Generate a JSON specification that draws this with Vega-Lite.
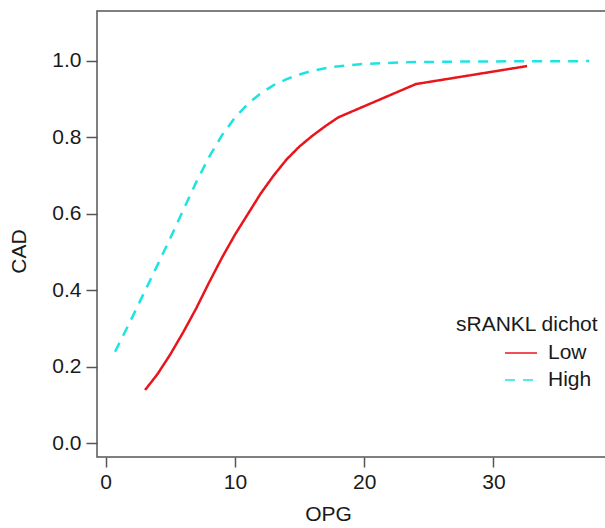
{
  "$schema": "https://vega.github.io/schema/vega-lite/v6.json",
  "autosize": {"type": "none"},
  "padding": {"left": 97, "top": 11, "right": 0, "bottom": 71},
  "width": 510,
  "height": 446,
  "background": "white",
  "config": {
    "font": "Liberation Sans",
    "view": {"stroke": "#555555", "strokeWidth": 1.5},
    "axis": {
      "labelFont": "Liberation Sans",
      "titleFont": "Liberation Sans",
      "labelFontSize": 21,
      "titleFontSize": 21,
      "titleFontWeight": "normal",
      "labelColor": "#1a1a1a",
      "titleColor": "#1a1a1a",
      "tickColor": "#555555",
      "tickWidth": 1.5,
      "tickSize": 10,
      "domainColor": "#555555",
      "domainWidth": 1.5,
      "grid": false
    }
  },
  "data": {
    "values": [
      {"OPG": 3.05, "CAD": 0.139, "group": "Low"},
      {"OPG": 4.0, "CAD": 0.18, "group": "Low"},
      {"OPG": 5.0, "CAD": 0.232, "group": "Low"},
      {"OPG": 6.0, "CAD": 0.29, "group": "Low"},
      {"OPG": 7.0, "CAD": 0.352, "group": "Low"},
      {"OPG": 8.0, "CAD": 0.42, "group": "Low"},
      {"OPG": 9.0, "CAD": 0.485, "group": "Low"},
      {"OPG": 10.0, "CAD": 0.545, "group": "Low"},
      {"OPG": 11.0, "CAD": 0.599, "group": "Low"},
      {"OPG": 12.0, "CAD": 0.653, "group": "Low"},
      {"OPG": 13.0, "CAD": 0.7, "group": "Low"},
      {"OPG": 14.0, "CAD": 0.742, "group": "Low"},
      {"OPG": 15.0, "CAD": 0.776, "group": "Low"},
      {"OPG": 16.0, "CAD": 0.804, "group": "Low"},
      {"OPG": 17.0, "CAD": 0.829, "group": "Low"},
      {"OPG": 18.0, "CAD": 0.852, "group": "Low"},
      {"OPG": 24.0, "CAD": 0.939, "group": "Low"},
      {"OPG": 32.6, "CAD": 0.986, "group": "Low"},
      {"OPG": 0.73, "CAD": 0.239, "group": "High"},
      {"OPG": 2.0, "CAD": 0.325, "group": "High"},
      {"OPG": 3.0, "CAD": 0.395, "group": "High"},
      {"OPG": 4.0, "CAD": 0.465, "group": "High"},
      {"OPG": 5.0, "CAD": 0.536, "group": "High"},
      {"OPG": 6.0, "CAD": 0.609, "group": "High"},
      {"OPG": 7.0, "CAD": 0.682, "group": "High"},
      {"OPG": 8.0, "CAD": 0.748, "group": "High"},
      {"OPG": 9.0, "CAD": 0.805, "group": "High"},
      {"OPG": 10.0, "CAD": 0.851, "group": "High"},
      {"OPG": 11.0, "CAD": 0.887, "group": "High"},
      {"OPG": 12.0, "CAD": 0.915, "group": "High"},
      {"OPG": 13.0, "CAD": 0.936, "group": "High"},
      {"OPG": 14.0, "CAD": 0.952, "group": "High"},
      {"OPG": 15.0, "CAD": 0.964, "group": "High"},
      {"OPG": 16.0, "CAD": 0.974, "group": "High"},
      {"OPG": 17.6, "CAD": 0.984, "group": "High"},
      {"OPG": 19.7, "CAD": 0.991, "group": "High"},
      {"OPG": 23.0, "CAD": 0.996, "group": "High"},
      {"OPG": 28.0, "CAD": 0.998, "group": "High"},
      {"OPG": 37.4, "CAD": 0.999, "group": "High"}
    ]
  },
  "mark": {"type": "line", "interpolate": "linear", "strokeWidth": 2.5},
  "encoding": {
    "x": {
      "field": "OPG",
      "type": "quantitative",
      "scale": {"domain": [-0.665, 38.78], "nice": false, "zero": false},
      "axis": {
        "title": "OPG",
        "values": [0, 10, 20, 30],
        "domain": false,
        "labelPadding": 4,
        "titleX": 231,
        "titleY": 46,
        "titleAlign": "center",
        "titleBaseline": "top"
      }
    },
    "y": {
      "field": "CAD",
      "type": "quantitative",
      "scale": {"domain": [-0.036, 1.13], "nice": false, "zero": false},
      "axis": {
        "title": "CAD",
        "values": [0, 0.2, 0.4, 0.6, 0.8, 1.0],
        "format": ".1f",
        "domain": false,
        "tickSize": 11,
        "labelPadding": 5,
        "titleAngle": 270,
        "titleX": -78,
        "titleY": 240,
        "titleAlign": "center",
        "titleBaseline": "middle"
      }
    },
    "color": {
      "field": "group",
      "type": "nominal",
      "scale": {"domain": ["Low", "High"], "range": ["#e8161c", "#1fe3e3"]},
      "legend": {
        "title": "sRANKL dichot",
        "orient": "none",
        "legendX": 359,
        "legendY": 303,
        "titleFontSize": 21,
        "titleFontWeight": "normal",
        "titleFont": "Liberation Sans",
        "titleColor": "#1a1a1a",
        "labelFontSize": 21,
        "labelFont": "Liberation Sans",
        "labelColor": "#1a1a1a",
        "symbolType": "stroke",
        "symbolSize": 1024,
        "symbolStrokeWidth": 1.5,
        "symbolOffset": 48,
        "labelOffset": 10,
        "rowPadding": -11,
        "titlePadding": 1
      }
    },
    "strokeDash": {
      "field": "group",
      "type": "nominal",
      "scale": {"domain": ["Low", "High"], "range": [[1, 0], [10, 8]]},
      "legend": null
    }
  }
}
